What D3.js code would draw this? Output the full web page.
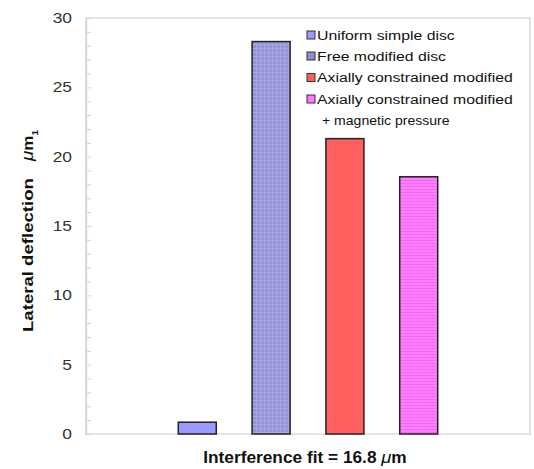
<!DOCTYPE html>
<html>
<head>
<meta charset="utf-8">
<script src="https://cdn.jsdelivr.net/npm/d3@7"></script>
<style>
  html, body { margin: 0; padding: 0; background: #fff; }
  svg { display: block; font-family: "Liberation Sans", Arial, sans-serif; }
</style>
</head>
<body>
<svg id="chart" width="534" height="469"></svg>
<script>
// Series (one group: interference fit = 16.8 µm)
const seriesNames = [
  "Uniform simple disc",
  "Free modified disc",
  "Axially constrained modified",
  "Axially constrained modified"
];
const legendExtra = ["", "", "", "+ magnetic pressure"];
const deflection = [0.85, 28.3, 21.3, 18.55];
const seriesFill = ["#9999ff", "url(#gridFill)", "#ff5f5f", "url(#stripeFill)"];
const swatchFill = ["#9999ff", "#8f8fcc", "#ff5f5f", "#ff77ff"];
const yTicks = [0, 5, 10, 15, 20, 25, 30];
const yMinorTicks = d3.range(0, 31, 1);

const svg = d3.select("#chart");
const plot = { left: 86, right: 530, top: 18, bottom: 434 };
const WIDE = 1.17; // horizontal stretch of the wide sans lettering

// Fill patterns for the second and fourth series
const defs = svg.append("defs");
const grid = defs.append("pattern").attr("id", "gridFill")
  .attr("patternUnits", "userSpaceOnUse").attr("width", 4).attr("height", 4);
grid.append("rect").attr("width", 4).attr("height", 4).attr("fill", "#9494d6");
grid.append("rect").attr("width", 1).attr("height", 4).attr("fill", "#a6a6e0");
grid.append("rect").attr("width", 4).attr("height", 1).attr("fill", "#a6a6e0");
const stripe = defs.append("pattern").attr("id", "stripeFill")
  .attr("patternUnits", "userSpaceOnUse").attr("width", 4).attr("height", 3);
stripe.append("rect").attr("width", 4).attr("height", 3).attr("fill", "#ff7cff");
stripe.append("rect").attr("width", 4).attr("height", 1).attr("fill", "#f06af0");

const x = d3.scaleBand()
  .domain(d3.range(seriesNames.length))
  .range([plot.left, plot.right])
  .paddingInner(0.485)
  .paddingOuter(1.25);

const y = d3.scaleLinear().domain([0, 30]).range([plot.bottom, plot.top]);

// Plot frame
svg.append("rect")
  .attr("x", plot.left).attr("y", plot.top)
  .attr("width", plot.right - plot.left).attr("height", plot.bottom - plot.top)
  .attr("fill", "none").attr("stroke", "#dcdcdc").attr("stroke-width", 1.5);

// Y axis with inward minor ticks
const yAxis = svg.append("g").attr("transform", `translate(${plot.left},0)`)
  .call(d3.axisRight(y).tickValues(yMinorTicks).tickSize(5).tickFormat(""));
yAxis.select(".domain").attr("stroke", "#d0d0d0").attr("stroke-width", 1.2);
yAxis.selectAll(".tick line").attr("stroke", "#d4d4d4");

// Y tick labels, right-aligned left of the axis
svg.append("g").selectAll("text")
  .data(yTicks)
  .join("text")
  .attr("transform", d => `translate(72,${y(d)}) scale(1.2,1)`)
  .attr("text-anchor", "end")
  .attr("dy", "0.35em")
  .attr("font-size", 14.5)
  .attr("fill", "#333")
  .text(d => d);

// Bars
svg.append("g").selectAll("rect")
  .data(deflection)
  .join("rect")
  .attr("x", (d, i) => x(i))
  .attr("y", d => y(d))
  .attr("width", x.bandwidth())
  .attr("height", d => y(0) - y(d))
  .attr("fill", (d, i) => seriesFill[i])
  .attr("stroke", "#222")
  .attr("stroke-width", 1.5);

// Legend
const legend = svg.append("g").attr("font-size", 13.5).attr("fill", "#111");
const rowY = [35, 56, 77.5, 99];
seriesNames.forEach((name, i) => {
  const g = legend.append("g").attr("transform", `translate(307,${rowY[i]})`);
  g.append("rect").attr("x", 0).attr("y", -4).attr("width", 8).attr("height", 8)
    .attr("fill", swatchFill[i]).attr("stroke", "#333").attr("stroke-width", 1);
  g.append("text").attr("transform", `translate(10,0) scale(${WIDE},1)`)
    .attr("dy", "0.36em").text(name);
  if (legendExtra[i]) {
    g.append("text").attr("transform", `translate(15,21.5) scale(1.04,1)`)
      .attr("dy", "0.36em").text(legendExtra[i]);
  }
});

// Axis titles
const xTitle = svg.append("text")
  .attr("transform", "translate(305,463) scale(1.08,1)")
  .attr("text-anchor", "middle")
  .attr("font-size", 16).attr("font-weight", "bold").attr("fill", "#111");
xTitle.append("tspan").text("Interference fit = 16.8 ");
xTitle.append("tspan").attr("font-style", "italic").attr("font-weight", "normal").attr("font-size", 17).text("μ");
xTitle.append("tspan").text("m");

svg.append("text")
  .attr("transform", "translate(33,332) rotate(-90) scale(1.2,1)")
  .attr("font-size", 15.5).attr("font-weight", "bold").attr("fill", "#111")
  .text("Lateral deflection");

const yUnit = svg.append("text")
  .attr("transform", "translate(33,161) rotate(-90) scale(1.1,1)")
  .attr("font-size", 15.5).attr("font-weight", "bold").attr("fill", "#111");
yUnit.append("tspan").attr("font-style", "italic").attr("font-weight", "normal").attr("font-size", 17).text("μ");
yUnit.append("tspan").text("m");
yUnit.append("tspan").attr("font-size", 9).attr("dy", 5).text("1");
</script>
</body>
</html>
